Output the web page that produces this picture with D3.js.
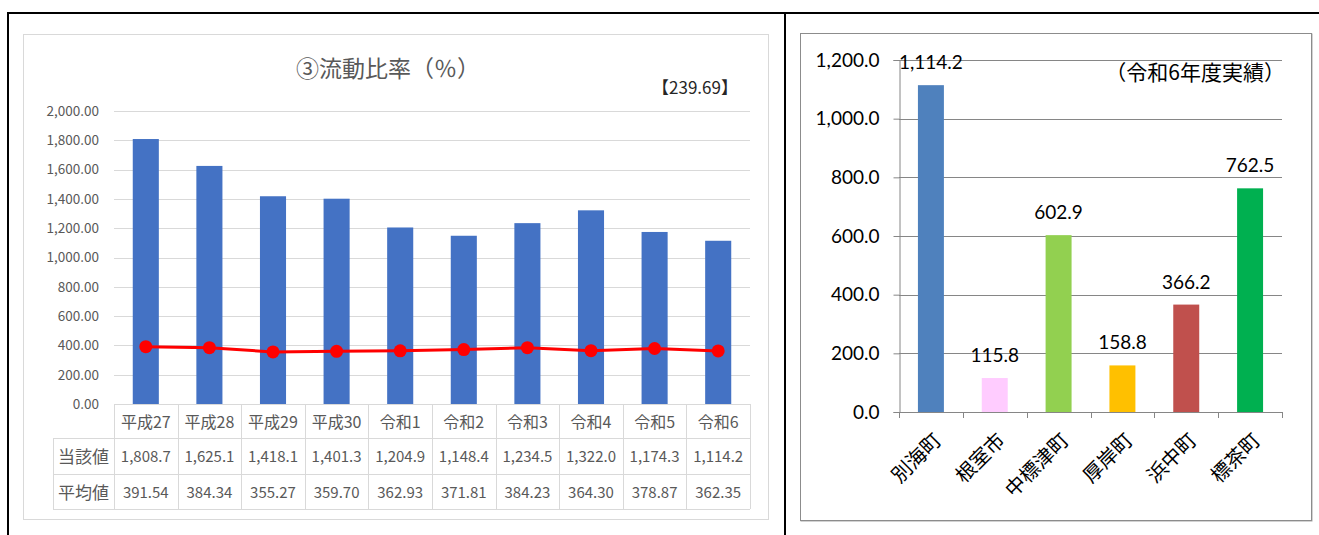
<!DOCTYPE html>
<html><head><meta charset="utf-8">
<script src="https://cdn.jsdelivr.net/npm/d3@7"></script>
<style>body{margin:0;background:#fff}svg{display:block}</style>
</head><body>
<svg id="c" width="1319" height="535"></svg>
<script>
// ---- data ----
const years = ["平成27","平成28","平成29","平成30","令和1","令和2","令和3","令和4","令和5","令和6"];
const values = [1808.7,1625.1,1418.1,1401.3,1204.9,1148.4,1234.5,1322.0,1174.3,1114.2];
const averages = [391.54,384.34,355.27,359.70,362.93,371.81,384.23,364.30,378.87,362.35];
const leftTicks = [0,200,400,600,800,1000,1200,1400,1600,1800,2000];
const towns = ["別海町","根室市","中標津町","厚岸町","浜中町","標茶町"];
const townValues = [1114.2,115.8,602.9,158.8,366.2,762.5];
const townColors = ["#4f81bd","#ffccff","#92d050","#ffc000","#c0504d","#00b050"];
const rightTicks = [0,200,400,600,800,1000,1200];
const leftTitle = "③流動比率（％）";
const leftNote = "【239.69】";
const rightNote = "（令和6年度実績）";
const rowLabels = ["当該値","平均値"];

const svg = d3.select("#c");
const jp = "'Noto Sans CJK JP', 'Noto Sans', sans-serif";
const lat = "Lato, 'Noto Sans CJK JP', sans-serif";

// frame
svg.append("line").attr("x1",8).attr("x2",1319).attr("y1",13).attr("y2",13).attr("stroke","#000").attr("stroke-width",2);
svg.append("line").attr("x1",8).attr("x2",8).attr("y1",12).attr("y2",535).attr("stroke","#000").attr("stroke-width",2);
svg.append("line").attr("x1",785).attr("x2",785).attr("y1",12).attr("y2",535).attr("stroke","#000").attr("stroke-width",2);

// ---------- left chart ----------
const L = svg.append("g");
L.append("rect").attr("x",23.5).attr("y",34.5).attr("width",745).attr("height",485).attr("fill","#fff").attr("stroke","#d9d9d9");
L.append("text").attr("x",388).attr("y",77).attr("text-anchor","middle").attr("font-family",jp).attr("font-size",23).attr("fill","#595959").text(leftTitle);
L.append("text").attr("x",695).attr("y",94).attr("text-anchor","middle").attr("font-family",jp).attr("font-size",17).attr("fill","#262626").text(leftNote);

const x1 = d3.scaleBand().domain(years).range([114,750]).paddingInner(0.59).paddingOuter(0.295);
const y1 = d3.scaleLinear().domain([0,2000]).range([404,111]);

L.append("g").selectAll("line").data(leftTicks).join("line")
  .attr("x1",114).attr("x2",750).attr("y1",d=>Math.round(y1(d))+0.5).attr("y2",d=>Math.round(y1(d))+0.5)
  .attr("stroke","#d9d9d9").attr("stroke-width",1);
const yax = L.append("g").attr("transform","translate(114,0)").call(d3.axisLeft(y1).tickValues(leftTicks).tickFormat(d3.format(",.2f")).tickSize(0).tickPadding(15));
yax.select(".domain").remove();
yax.selectAll("text").attr("font-family",jp).attr("font-size",13.5).attr("fill","#595959");

L.append("g").selectAll("rect").data(values).join("rect")
  .attr("x",(d,i)=>x1(years[i])).attr("width",x1.bandwidth())
  .attr("y",d=>y1(d)).attr("height",d=>y1(0)-y1(d)).attr("fill","#4472c4");

const cx = i => x1(years[i]) + x1.bandwidth()/2;
L.append("path").datum(averages).attr("fill","none").attr("stroke","#ff0000").attr("stroke-width",3)
  .attr("d", d3.line().x((d,i)=>cx(i)).y(d=>y1(d)));
L.append("g").selectAll("circle").data(averages).join("circle")
  .attr("cx",(d,i)=>cx(i)).attr("cy",d=>y1(d)).attr("r",6.5).attr("fill","#ff0000");

// data table
const tb = L.append("g").attr("stroke","#d9d9d9").attr("stroke-width",1);
tb.append("line").attr("x1",114).attr("x2",750).attr("y1",404.5).attr("y2",404.5);
tb.append("line").attr("x1",53).attr("x2",750).attr("y1",438.5).attr("y2",438.5);
tb.append("line").attr("x1",53).attr("x2",750).attr("y1",474.5).attr("y2",474.5);
tb.append("line").attr("x1",53).attr("x2",750).attr("y1",509.5).attr("y2",509.5);
tb.append("line").attr("x1",53.5).attr("x2",53.5).attr("y1",438).attr("y2",509);
const step1 = x1.step();
d3.range(11).forEach(i=>{
  const xx = Math.round(114 + i*step1)+0.5;
  tb.append("line").attr("x1",xx).attr("x2",xx).attr("y1",404).attr("y2",509);
});
const tt = L.append("g").attr("font-family",jp).attr("font-size",15).attr("fill","#595959").attr("text-anchor","middle");
tt.selectAll("text.h").data(years).join("text").attr("class","h").attr("x",(d,i)=>cx(i)).attr("y",428).attr("font-size",16).text(d=>d);
tt.selectAll("text.v").data(values).join("text").attr("class","v").attr("x",(d,i)=>cx(i)).attr("y",462).text(d=>d3.format(",.1f")(d));
tt.selectAll("text.a").data(averages).join("text").attr("class","a").attr("x",(d,i)=>cx(i)).attr("y",498).text(d=>d3.format(".2f")(d));
tt.append("text").attr("x",83.5).attr("y",463).attr("font-size",17).text(rowLabels[0]);
tt.append("text").attr("x",83.5).attr("y",499).attr("font-size",17).text(rowLabels[1]);

// ---------- right chart ----------
const R = svg.append("g");
R.append("rect").attr("x",801).attr("y",34).attr("width",511).attr("height",487).attr("fill","none").attr("stroke","#a6a6a6").attr("stroke-width",1);
R.append("rect").attr("x",800.5).attr("y",33.5).attr("width",511).attr("height",487).attr("fill","#fff").attr("stroke","#8c8c8c").attr("stroke-width",1);

const x2 = d3.scaleBand().domain(towns).range([899,1282]).paddingInner(0.593).paddingOuter(0.2965);
const y2 = d3.scaleLinear().domain([0,1200]).range([412,60]);

R.append("g").selectAll("line").data(rightTicks.slice(1)).join("line")
  .attr("x1",899).attr("x2",1282).attr("y1",d=>Math.round(y2(d))+0.5).attr("y2",d=>Math.round(y2(d))+0.5)
  .attr("stroke","#868686").attr("stroke-width",1);

R.append("text").attr("x",1285).attr("y",80).attr("text-anchor","end").attr("font-family",jp).attr("font-size",21).attr("fill","#000").text(rightNote);

R.append("g").selectAll("rect").data(townValues).join("rect")
  .attr("x",(d,i)=>x2(towns[i])).attr("width",x2.bandwidth())
  .attr("y",d=>y2(d)).attr("height",d=>y2(0)-y2(d)).attr("fill",(d,i)=>townColors[i]);

const ry = R.append("g").attr("transform","translate(899.5,0)").call(d3.axisLeft(y2).tickValues(rightTicks).tickFormat(d3.format(",.1f")).tickSize(6).tickPadding(14));
ry.select(".domain").attr("stroke","#868686");
ry.selectAll(".tick line").attr("stroke","#868686");
ry.selectAll("text").attr("font-family",lat).attr("font-size",19).attr("fill","#000");

// x axis
const rx = R.append("g");
rx.append("line").attr("x1",899).attr("x2",1282).attr("y1",412.5).attr("y2",412.5).attr("stroke","#868686");
d3.range(7).forEach(i=>{
  const xx = Math.round(899 + i*x2.step())+0.5;
  rx.append("line").attr("x1",xx).attr("x2",xx).attr("y1",412).attr("y2",418).attr("stroke","#868686");
});
rx.selectAll("text").data(towns).join("text")
  .attr("transform",d=>`translate(${x2(d)+x2.bandwidth()/2+1},${431}) rotate(-45)`)
  .attr("text-anchor","end").attr("dy","0.75em").attr("font-family",jp).attr("font-size",20).attr("fill","#000").text(d=>d);

R.append("g").selectAll("text").data(townValues).join("text")
  .attr("x",(d,i)=>x2(towns[i])+x2.bandwidth()/2).attr("y",d=>y2(d)-16)
  .attr("text-anchor","middle").attr("font-family",lat).attr("font-size",19).attr("fill","#000")
  .text(d=>d3.format(",.1f")(d));
</script>
</body></html>
